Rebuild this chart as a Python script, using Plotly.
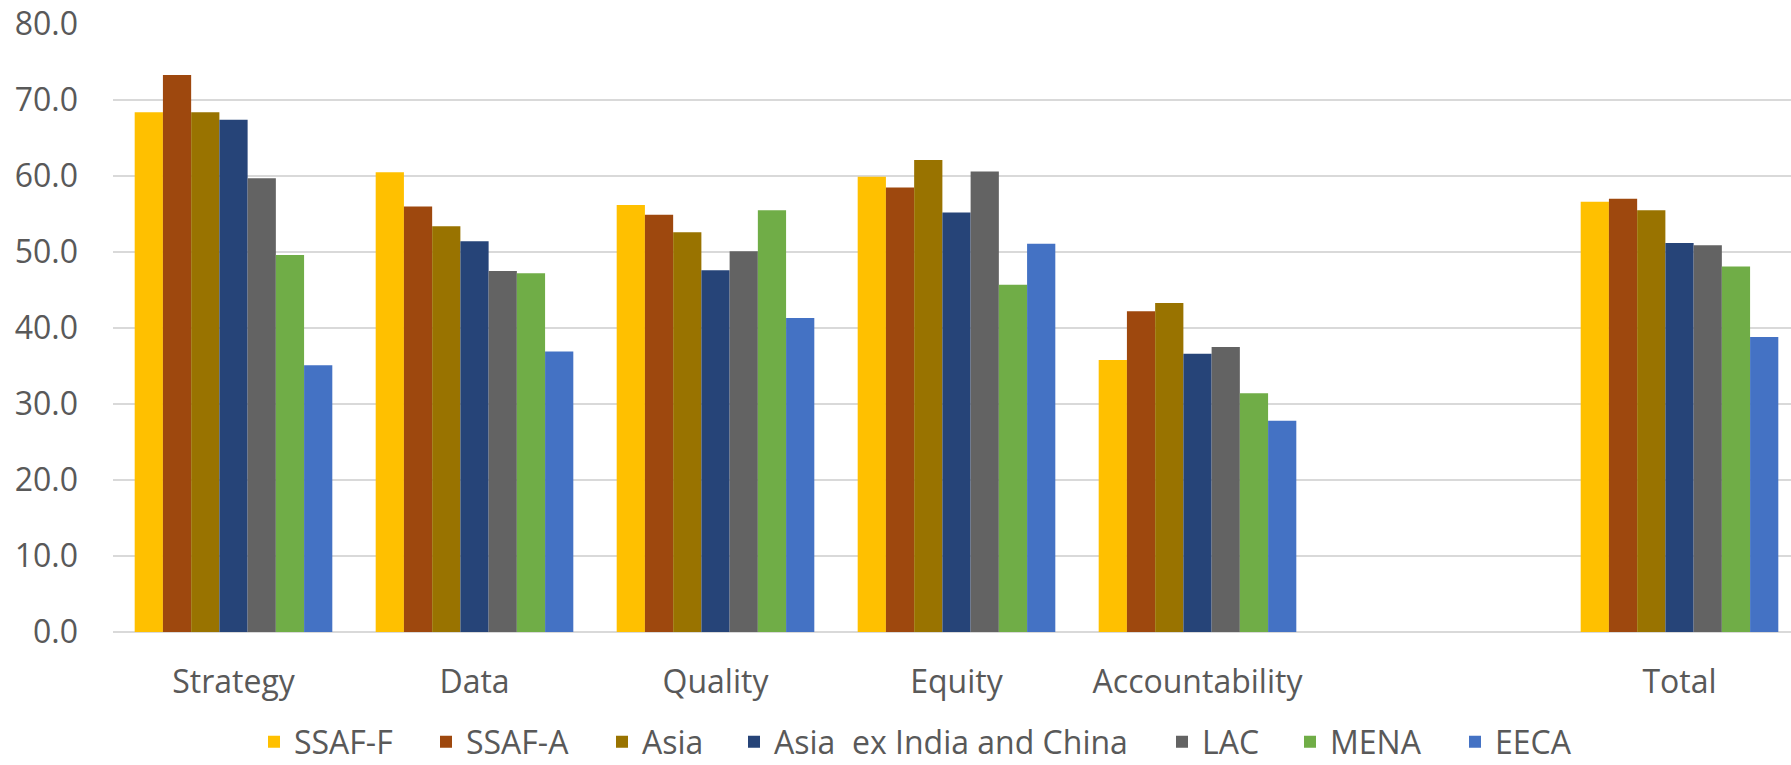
import plotly.graph_objects as go

categories = ["Strategy", "Data", "Quality", "Equity", "Accountability", " ", "Total"]
series_names = ["SSAF-F", "SSAF-A", "Asia", "Asia  ex India and China", "LAC", "MENA", "EECA"]
ssaf_f = [68.4, 60.5, 56.2, 59.9, 35.8, None, 56.6]
ssaf_a = [73.3, 56.0, 54.9, 58.5, 42.2, None, 57.0]
asia = [68.4, 53.4, 52.6, 62.1, 43.3, None, 55.5]
asia_ex = [67.4, 51.4, 47.6, 55.2, 36.6, None, 51.2]
lac = [59.7, 47.5, 50.1, 60.6, 37.5, None, 50.9]
mena = [49.6, 47.2, 55.5, 45.7, 31.4, None, 48.1]
eeca = [35.1, 36.9, 41.3, 51.1, 27.8, None, 38.8]
colors = ["#FFC000", "#9E480E", "#997300", "#264478", "#636363", "#70AD47", "#4472C4"]
tick_vals = [0, 10, 20, 30, 40, 50, 60, 70, 80]
tick_text = ["0.0", "10.0", "20.0", "30.0", "40.0", "50.0", "60.0", "70.0", "80.0"]
# left edge (px) where each legend entry's text begins
legend_text_x = [294, 466, 642, 774, 1202, 1330, 1495]

series = [ssaf_f, ssaf_a, asia, asia_ex, lac, mena, eeca]

W, H = 1791, 765
left, top, bottom_y = 113, 24, 632
span = 241.0
FONT = "Open Sans"
FS = 32
GREY = "#595959"

fig = go.Figure()
legend_layouts = {}
for i, (name, vals, col) in enumerate(zip(series_names, series, colors)):
    key = "legend" if i == 0 else f"legend{i + 1}"
    fig.add_trace(go.Bar(x=categories, y=vals, name=name, legend=key, showlegend=True,
                         marker=dict(color=col, line=dict(width=0))))
    legend_layouts[key] = dict(
        orientation="h", xref="container", yref="container",
        x=(legend_text_x[i] - 40) / W, xanchor="left",
        y=(H - 742) / H, yanchor="middle",
        font=dict(family=FONT, size=FS, color=GREY), itemclick=False,
        bgcolor="rgba(0,0,0,0)", borderwidth=0,
    )

fig.update_layout(
    width=W, height=H, showlegend=True,
    margin=dict(l=left, r=0, t=top, b=H - bottom_y),
    barmode="group", bargap=0.18, bargroupgap=0,
    plot_bgcolor="white", paper_bgcolor="white",
    font=dict(family=FONT, size=FS, color=GREY),
    xaxis=dict(
        categoryorder="array", categoryarray=categories,
        range=[-0.5, -0.5 + (W - left) / span],
        showgrid=False, showline=False, zeroline=False,
        ticks="outside", ticklen=22, tickcolor="rgba(0,0,0,0)",
        tickfont=dict(family=FONT, size=FS, color=GREY),
    ),
    yaxis=dict(
        range=[0, 80], tickvals=tick_vals, ticktext=tick_text,
        showgrid=True, gridcolor="#D9D9D9", gridwidth=1.5,
        zeroline=True, zerolinecolor="#D9D9D9", zerolinewidth=1.5,
        showline=False, ticklabelstandoff=34,
        tickfont=dict(family=FONT, size=FS, color=GREY),
    ),
    **legend_layouts,
)
fig.write_html("out.html")
